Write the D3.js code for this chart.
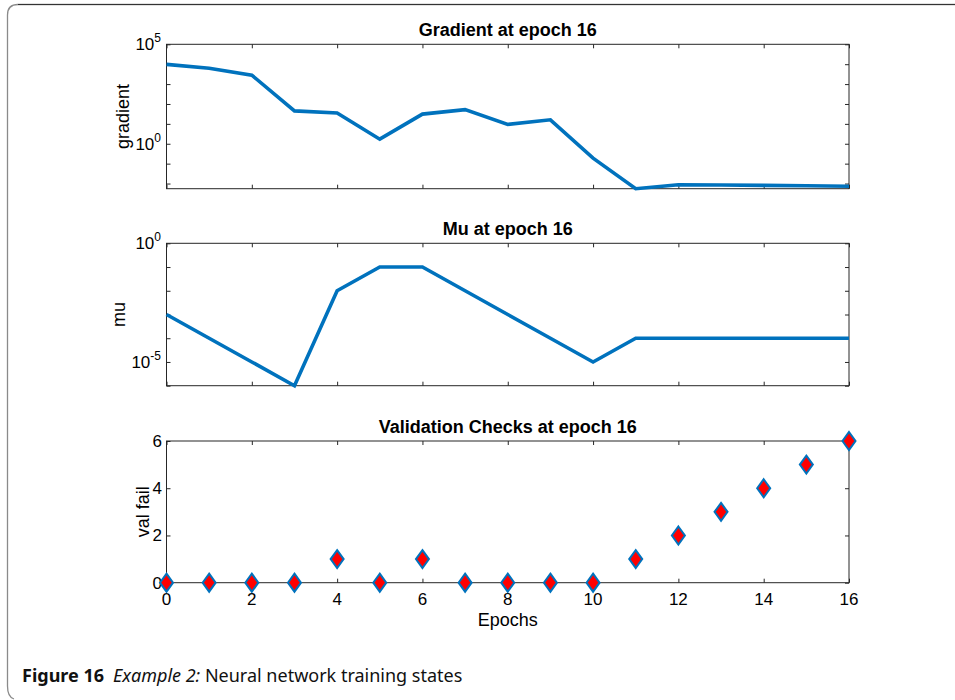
<!DOCTYPE html>
<html>
<head>
<meta charset="utf-8">
<script src="https://cdn.jsdelivr.net/npm/d3@7"></script>
<style>
  html, body { margin: 0; padding: 0; background: #fff; }
  svg { display: block; }
</style>
</head>
<body>
<svg id="chart" width="955" height="700"></svg>
<script>
// Training record: one entry per epoch
const epochs = [0, 1, 2, 3, 4, 5, 6, 7, 8, 9, 10, 11, 12, 13, 14, 15, 16];
const gradient = [9800, 6200, 2800, 45, 35, 1.7, 31, 52, 9.4, 16, 0.19, 0.0055, 0.0087, 0.0085, 0.0081, 0.0077, 0.0073];
const mu = [1e-3, 1e-4, 1e-5, 1e-6, 1e-2, 1e-1, 1e-1, 1e-2, 1e-3, 1e-4, 1e-5, 1e-4, 1e-4, 1e-4, 1e-4, 1e-4, 1e-4];
const valFail = [0, 0, 0, 0, 1, 0, 1, 0, 0, 0, 0, 1, 2, 3, 4, 5, 6];

const xTicks = [0, 2, 4, 6, 8, 10, 12, 14, 16];
const gradTicks = [1e-2, 1e-1, 1e0, 1e1, 1e2, 1e3, 1e4, 1e5];
const gradLabels = [{ v: 1e5, exp: "5" }, { v: 1e0, exp: "0" }];
const muTicks = [1e-6, 1e-5, 1e-4, 1e-3, 1e-2, 1e-1, 1e0];
const muLabels = [{ v: 1e0, exp: "0" }, { v: 1e-5, exp: "-5" }];
const valTicks = [0, 2, 4, 6];

const titles = ["Gradient at epoch 16", "Mu at epoch 16", "Validation Checks at epoch 16"];
const yNames = ["gradient", "mu", "val fail"];
const xName = "Epochs";

const svg = d3.select("#chart");
const LINE = "#0072BD";
const AXC = "#262626";
const FONT = "'Liberation Sans', Arial, Helvetica, sans-serif";
const TICK_FS = 17;

// page frame with rounded corners
svg.append("path")
  .attr("d", "M955,4.5 L18,4.5 Q7.5,4.5 7.5,15 L7.5,686 Q7.5,697 14,699")
  .attr("fill", "none").attr("stroke", "#8a8a8a").attr("stroke-width", 1.3);
svg.append("line").attr("x1", 18).attr("x2", 955).attr("y1", 4.5).attr("y2", 4.5)
  .attr("stroke", "#333").attr("stroke-width", 1.2);

const left = 166.5, right = 849;
const x = d3.scaleLinear().domain([0, 16]).range([left, right]);

const panels = [
  { top: 44.3, bottom: 188.7 },
  { top: 243.3, bottom: 385.7 },
  { top: 441, bottom: 582.7 }
];

function frame(g, p, yScale, yTickVals) {
  const h = p.bottom - p.top;
  // inward ticks on all four sides
  g.append("g").attr("transform", `translate(0,${p.bottom})`)
    .call(d3.axisBottom(x).tickValues(xTicks).tickSize(-4).tickSizeOuter(0).tickFormat(() => ""))
    .call(s => s.select(".domain").remove());
  g.append("g").attr("transform", `translate(0,${p.top})`)
    .call(d3.axisTop(x).tickValues(xTicks).tickSize(-4).tickSizeOuter(0).tickFormat(() => ""))
    .call(s => s.select(".domain").remove());
  g.append("g").attr("transform", `translate(${left},0)`)
    .call(d3.axisLeft(yScale).tickValues(yTickVals).tickSize(-4).tickSizeOuter(0).tickFormat(() => ""))
    .call(s => s.select(".domain").remove());
  g.append("g").attr("transform", `translate(${right},0)`)
    .call(d3.axisRight(yScale).tickValues(yTickVals).tickSize(-4).tickSizeOuter(0).tickFormat(() => ""))
    .call(s => s.select(".domain").remove());
  g.selectAll(".tick line").attr("stroke", AXC).attr("stroke-width", 1);
  g.append("rect").attr("x", left).attr("y", p.top).attr("width", right - left).attr("height", h)
    .attr("fill", "none").attr("stroke", AXC).attr("stroke-width", 1);
}

function powerLabels(g, yScale, labels) {
  labels.forEach(l => {
    const t = g.append("text").attr("x", 161).attr("y", yScale(l.v) + 6)
      .attr("text-anchor", "end").attr("font-family", FONT).attr("font-size", TICK_FS).attr("fill", "#000");
    t.append("tspan").text("10");
    t.append("tspan").attr("dy", -8).attr("font-size", 12).text(l.exp);
  });
}

function titleAndYLabel(g, i, p, ylx) {
  g.append("text").attr("x", (left + right) / 2).attr("y", p.top - 8)
    .attr("text-anchor", "middle").attr("font-family", FONT).attr("font-weight", "bold")
    .attr("font-size", 18).attr("fill", "#000").text(titles[i]);
  g.append("text").attr("transform", `translate(${ylx},${(p.top + p.bottom) / 2}) rotate(-90)`)
    .attr("text-anchor", "middle").attr("font-family", FONT).attr("font-size", 18)
    .attr("fill", "#000").text(yNames[i]);
}

// --- Gradient ---
{
  const p = panels[0];
  const y = d3.scaleLog().domain([d3.min(gradient), 1e5]).range([p.bottom, p.top]);
  const g = svg.append("g");
  frame(g, p, y, gradTicks);
  powerLabels(g, y, gradLabels);
  titleAndYLabel(g, 0, p, 129);
  g.append("path").datum(epochs)
    .attr("d", d3.line().x(d => x(d)).y((d, i) => y(gradient[i])))
    .attr("fill", "none").attr("stroke", LINE).attr("stroke-width", 3.6)
    .attr("stroke-linejoin", "miter");
}

// --- Mu ---
{
  const p = panels[1];
  const y = d3.scaleLog().domain([1e-6, 1]).range([p.bottom, p.top]);
  const g = svg.append("g");
  frame(g, p, y, muTicks);
  powerLabels(g, y, muLabels);
  titleAndYLabel(g, 1, p, 125);
  g.append("path").datum(epochs)
    .attr("d", d3.line().x(d => x(d)).y((d, i) => y(mu[i])))
    .attr("fill", "none").attr("stroke", LINE).attr("stroke-width", 3.6)
    .attr("stroke-linejoin", "miter");
}

// --- Validation checks ---
{
  const p = panels[2];
  const y = d3.scaleLinear().domain([0, 6]).range([p.bottom, p.top]);
  const g = svg.append("g");
  frame(g, p, y, valTicks);
  g.selectAll(".ylab").data(valTicks).join("text")
    .attr("x", 162).attr("y", d => y(d) + 6).attr("text-anchor", "end")
    .attr("font-family", FONT).attr("font-size", TICK_FS).attr("fill", "#000").text(d => d);
  g.selectAll(".xlab").data(xTicks).join("text")
    .attr("x", d => x(d)).attr("y", 605).attr("text-anchor", "middle")
    .attr("font-family", FONT).attr("font-size", TICK_FS).attr("fill", "#000").text(d => d);
  titleAndYLabel(g, 2, p, 149);
  g.append("text").attr("x", (left + right) / 2).attr("y", 626)
    .attr("text-anchor", "middle").attr("font-family", FONT).attr("font-size", 18)
    .attr("fill", "#000").text(xName);
  const hw = 6.5, hh = 9;
  g.selectAll(".mk").data(epochs).join("path")
    .attr("d", d => {
      const cx = x(d), cy = y(valFail[d]);
      return `M${cx},${cy - hh}L${cx + hw},${cy}L${cx},${cy + hh}L${cx - hw},${cy}Z`;
    })
    .attr("fill", "#FF0000").attr("stroke", LINE).attr("stroke-width", 2);
}

// caption
const cap = svg.append("text").attr("x", 22).attr("y", 682)
  .attr("font-family", "'Noto Sans', 'Open Sans', sans-serif").attr("font-size", 18).attr("fill", "#111");
cap.append("tspan").attr("font-weight", "bold").text("Figure 16");
cap.append("tspan").attr("dx", 9).attr("font-style", "italic").text("Example 2:");
cap.append("tspan").text(" Neural network training states");
</script>
</body>
</html>
